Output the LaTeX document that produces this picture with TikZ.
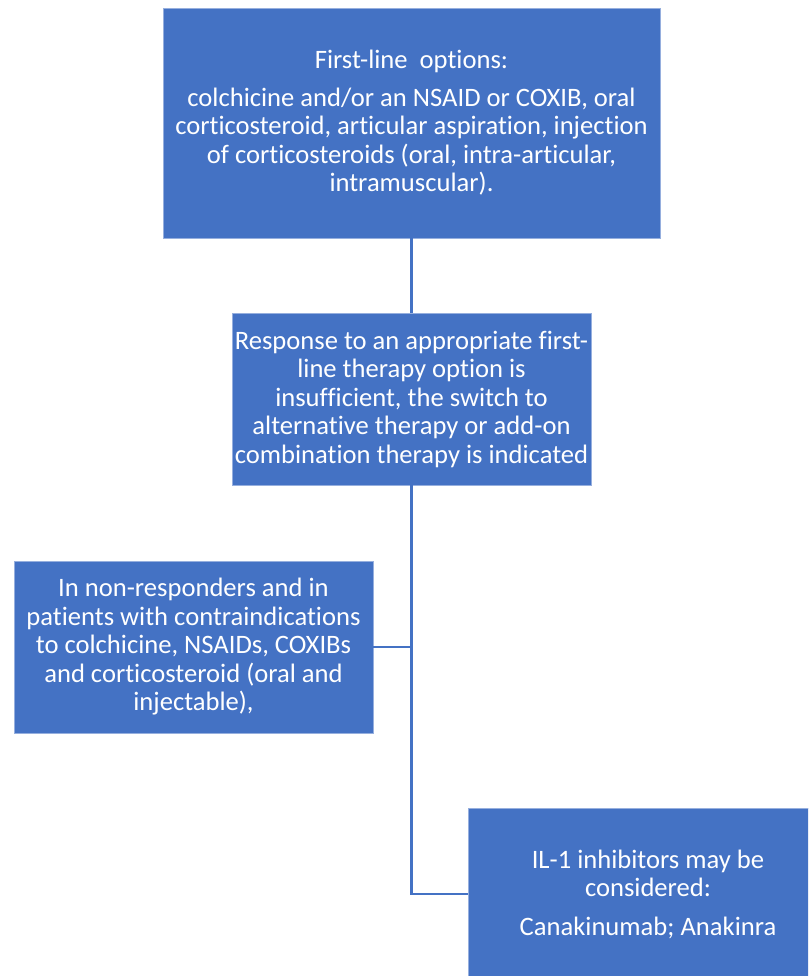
\documentclass[tikz,border=0pt]{standalone}
\usepackage{fontspec}
\setmainfont{Carlito}[Ligatures=NoCommon]
\usepackage{xcolor}
\definecolor{boxblue}{RGB}{68,114,196}
\definecolor{rimblue}{RGB}{150,175,222}
\tikzset{
	stepbox/.style={rectangle, fill=boxblue, draw=rimblue, line width=0.8pt,
		text=white, align=center, inner sep=0pt,
		font=\fontsize{26.6}{28.5}\selectfont},
	link/.style={draw=boxblue, line width=2.4pt}
}

\begin{document}
\begin{tikzpicture}[x=1pt,y=-1pt]
		\useasboundingbox (0,0) rectangle (808,976);
		\clip (0,0) rectangle (808,976);

		% boxes
		\node[stepbox, minimum width=497pt, minimum height=230pt] (first) at (411.5,123)
			{First-line\ \ options:\\[9pt]
			colchicine and/or an NSAID or COXIB, oral\\
			corticosteroid, articular aspiration, injection\\
			of corticosteroids (oral, intra-articular,\\
			intramuscular).};

		\node[stepbox, minimum width=359pt, minimum height=172pt] (resp) at (411.5,399)
			{Response to an appropriate first-\\
			line therapy option is\\
			insufficient, the switch to\\
			alternative therapy or add-on\\
			combination therapy is indicated};

		\node[stepbox, minimum width=359pt, minimum height=172pt] (nonresp) at (193.5,647)
			{In non-responders and in\\
			patients with contraindications\\
			to colchicine, NSAIDs, COXIBs\\
			and corticosteroid (oral and\\
			injectable),};

		\node[stepbox, minimum width=360pt, minimum height=172pt] (ilone) at (648,894)
			{IL-1 inhibitors may be\\
			considered:\\[10pt]
			Canakinumab; Anakinra};

		% connectors
		\draw[link] (first.south) -- (resp.north);
		\draw[link] (resp.south) |- (ilone.west);
		\draw[link] (nonresp.east) -- (nonresp.east -| resp.south);

\end{tikzpicture}
\end{document}
